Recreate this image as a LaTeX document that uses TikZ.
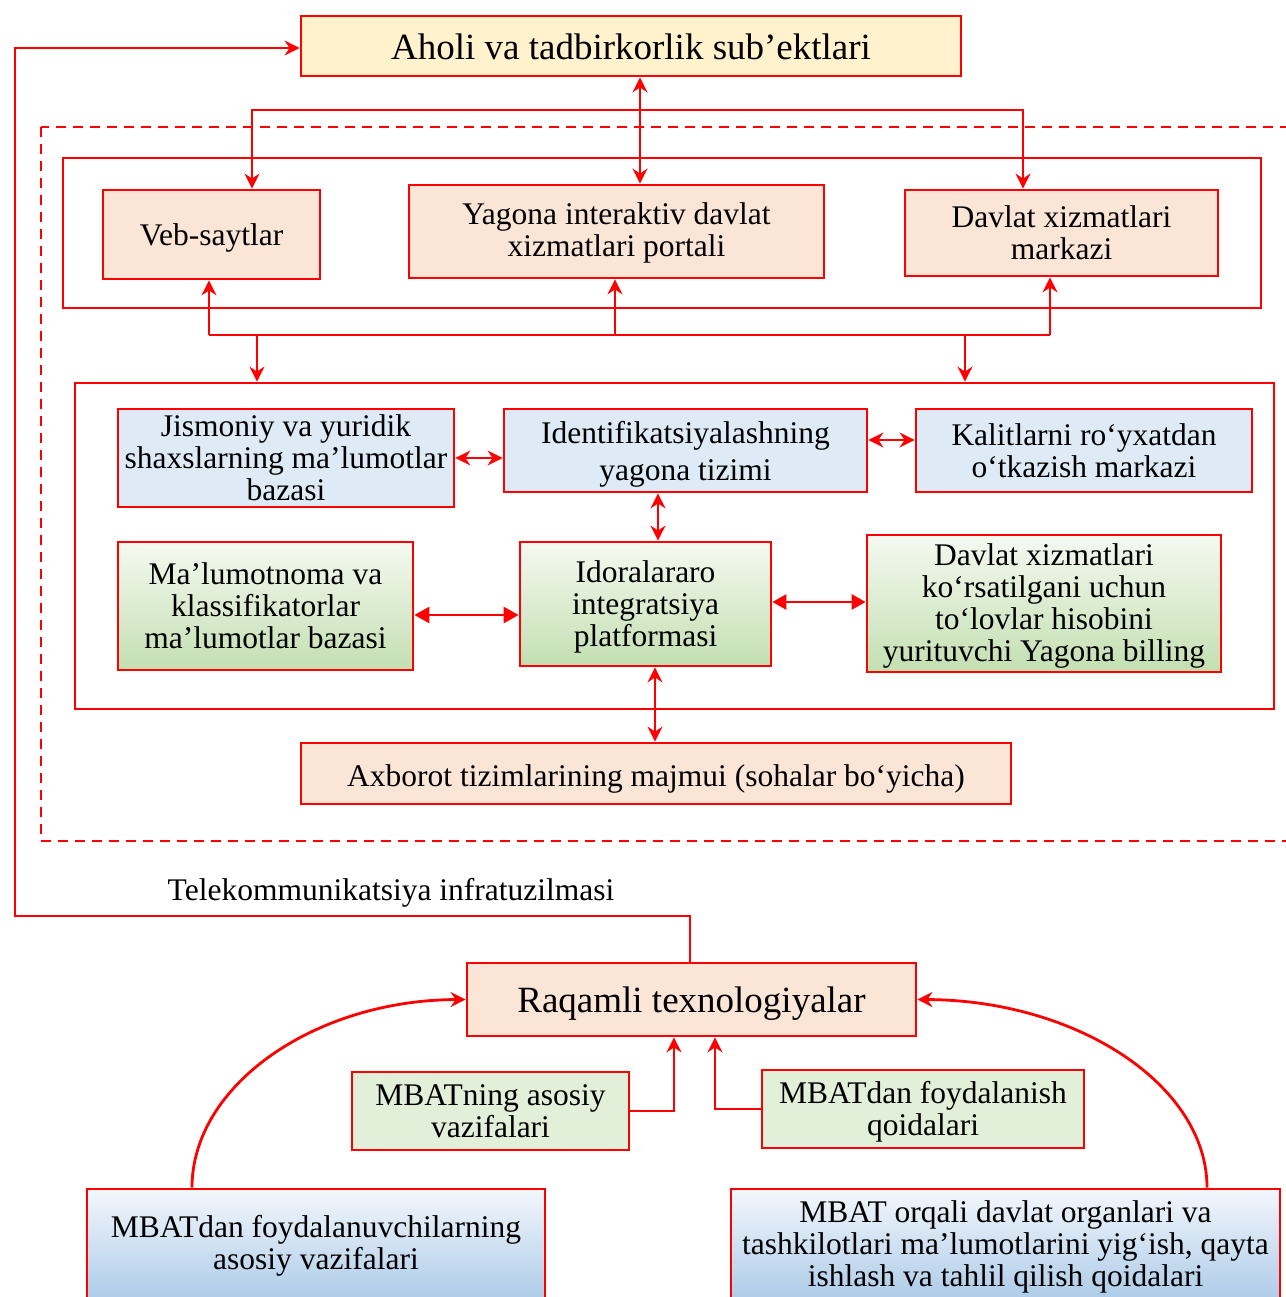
\documentclass[tikz,border=0pt]{standalone}
\usepackage{fontspec}
\setmainfont{Liberation Serif}
\usetikzlibrary{arrows.meta,calc}

\definecolor{linered}{HTML}{FF0000}
\definecolor{cream}{HTML}{FFF2CC}
\definecolor{peach}{HTML}{FBE5D6}
\definecolor{paleblue}{HTML}{DEEBF7}
\definecolor{palegreen}{HTML}{E2F0D9}
\definecolor{greentop}{HTML}{F5F9F1}
\definecolor{greenbot}{HTML}{C3DFB1}
\definecolor{bluetop}{HTML}{F3F7FC}
\definecolor{bluebot}{HTML}{ADCBE8}

\newcommand{\bodyfont}{\fontsize{31.5}{32}\selectfont}
\newcommand{\titlefont}{\fontsize{37}{40}\selectfont}
% strut that lowers the text block of a multi-line box
\newcommand{\topstrut}[1]{\rule{0pt}{#1pt}}

\tikzset{
  box/.style={draw=linered, line width=2.8pt, inner sep=0pt, align=center, font=\bodyfont},
  creambox/.style={box, fill=cream},
  peachbox/.style={box, fill=peach},
  bluebox/.style={box, fill=paleblue},
  greenflat/.style={box, fill=palegreen},
  greengrad/.style={box, top color=greentop, bottom color=greenbot},
  bluegrad/.style={box, top color=bluetop, bottom color=bluebot},
  frame/.style={draw=linered, line width=2.8pt, inner sep=0pt},
  link/.style={draw=linered, line width=2.8pt},
  tipsm/.tip={Stealth[length=15pt, width=15pt, inset=5pt]},
  tipbig/.tip={Stealth[length=15pt, width=16pt, inset=0pt]},
  tipmid/.tip={Stealth[length=14pt, width=15pt, inset=0pt]},
  one/.style={link, -tipsm},
  both/.style={link, tipsm-tipsm},
  bothbig/.style={link, tipbig-tipbig},
  bothmid/.style={link, tipmid-tipmid},
}

\begin{document}
\begin{tikzpicture}[x=1pt, y=-1pt]
\useasboundingbox (0,0) rectangle (1285,1297);

% outer dashed boundary of the state services block
\draw[linered, line width=2.8pt, dash pattern=on 10pt off 7pt] (41,127) rectangle (1320,841);

% frames
\node[frame, minimum width=1198pt, minimum height=150pt] (frameA) at (662,233) {};
\node[frame, minimum width=1199pt, minimum height=326pt] (frameB) at (674.5,546) {};

% boxes
\node[creambox, font=\titlefont, text height=28pt, text depth=0pt, minimum width=660pt, minimum height=60pt] (aholi) at (631,46) {Aholi va tadbirkorlik sub’ektlari};

\node[peachbox, text height=23pt, text depth=0pt, minimum width=217pt, minimum height=89pt] (veb) at (211.5,234.5) {Veb-saytlar};
\node[peachbox, minimum width=415pt, minimum height=93pt] (yagona) at (616.5,231.5) {\topstrut{25.5}Yagona interaktiv davlat\\xizmatlari portali};
\node[peachbox, minimum width=313pt, minimum height=86pt] (davlat) at (1061.5,233) {Davlat xizmatlari\\markazi};

\node[bluebox, minimum width=336pt, minimum height=98pt] (jism) at (286,458) {Jismoniy va yuridik\\shaxslarning ma’lumotlar\\bazasi};
\node[bluebox, minimum width=363pt, minimum height=83pt, font=\fontsize{31.5}{37}\selectfont] (ident) at (685.5,450.5) {\topstrut{29.5}Identifikatsiyalashning\\yagona tizimi};
\node[bluebox, minimum width=336pt, minimum height=83pt] (kalit) at (1084,450.5) {Kalitlarni ro‘yxatdan\\o‘tkazish markazi};

\node[greengrad, minimum width=295pt, minimum height=128pt] (malum) at (265.5,606) {Ma’lumotnoma va\\klassifikatorlar\\ma’lumotlar bazasi};
\node[greengrad, minimum width=251pt, minimum height=124pt] (idora) at (645.5,604) {\topstrut{27.5}Idoralararo\\integratsiya\\platformasi};
\node[greengrad, minimum width=354pt, minimum height=137pt] (bill) at (1044,603.5) {\topstrut{27}Davlat xizmatlari\\ko‘rsatilgani uchun\\to‘lovlar hisobini\\yurituvchi Yagona billing};

\node[peachbox, text height=26.5pt, text depth=0pt, minimum width=710pt, minimum height=61pt] (axb) at (656,773.5) {Axborot tizimlarining majmui (sohalar bo‘yicha)};

\node[font=\bodyfont, inner sep=0pt] (telekom) at (391,893) {Telekommunikatsiya infratuzilmasi};

\node[peachbox, font=\titlefont, text height=26pt, text depth=0pt, minimum width=449pt, minimum height=73pt] (raq) at (691.5,999.5) {Raqamli texnologiyalar};

\node[greenflat, minimum width=277pt, minimum height=78pt] (mb1) at (490.5,1111) {MBATning asosiy\\vazifalari};
\node[greenflat, minimum width=322pt, minimum height=78pt] (mb2) at (923,1109) {\topstrut{27}MBATdan foydalanish\\qoidalari};

\node[bluegrad, minimum width=458pt, minimum height=111pt] (foyd) at (316,1244.5) {\topstrut{25.5}MBATdan foydalanuvchilarning\\asosiy vazifalari};
\node[bluegrad, minimum width=549pt, minimum height=111pt] (orq) at (1005.5,1244.5) {\topstrut{27}MBAT orqali davlat organlari va\\tashkilotlari ma’lumotlarini yig‘ish, qayta\\ishlash va tahlil qilish qoidalari};

% guide columns and rows for the connectors
\coordinate (cA) at (640,0);
\coordinate (cV) at (252,0);
\coordinate (cD) at (1023,0);
\coordinate (yTop) at (0,110);
\coordinate (yBus) at (0,335);
\coordinate (u1) at (209,0);
\coordinate (u2) at (615,0);
\coordinate (u3) at (1050,0);
\coordinate (d1) at (257,0);
\coordinate (d2) at (965,0);
\coordinate (yK) at (0,440);
\coordinate (cI) at (658,0);
\coordinate (yM) at (0,615);
\coordinate (yB) at (0,602);
\coordinate (cX) at (655,0);
\coordinate (cT) at (690,0);
\coordinate (cL) at (15,0);
\coordinate (yT) at (0,916);
\coordinate (yAh) at (0,48);
\coordinate (c1) at (674,0);
\coordinate (c2) at (715,0);
\coordinate (cF) at (192,0);
\coordinate (cO) at (1207,0);

% citizens <-> portal, and branch to web sites and service centres
\draw[both] (aholi.south -| cA) -- (yagona.north -| cA);
\draw[both] (veb.north -| cV) -- (cV |- yTop) -- (cD |- yTop) -- (davlat.north -| cD);

% bus below the service channels
\draw[link] (u1 |- yBus) -- (u3 |- yBus);
\draw[one] (u1 |- yBus) -- (veb.south -| u1);
\draw[one] (u2 |- yBus) -- (yagona.south -| u2);
\draw[one] (u3 |- yBus) -- (davlat.south -| u3);
\draw[one] (d1 |- yBus) -- (frameB.north -| d1);
\draw[one] (d2 |- yBus) -- (frameB.north -| d2);

% core infrastructure links
\draw[both] (jism.east) -- (jism.east -| ident.west);
\draw[both] (ident.east |- yK) -- (kalit.west |- yK);
\draw[both] (ident.south -| cI) -- (idora.north -| cI);
\draw[bothbig] (malum.east |- yM) -- (idora.west |- yM);
\draw[bothmid] (idora.east |- yB) -- (bill.west |- yB);
\draw[both] (idora.south -| cX) -- (axb.north -| cX);

% telecommunication infrastructure loop
\draw[one] (raq.north -| cT) -- (cT |- yT) -- (cL |- yT) -- (cL |- yAh) -- (aholi.west |- yAh);

% inputs to digital technologies
\draw[one] (mb1.east) -- (c1 |- mb1.east) -- (raq.south -| c1);
\draw[one] (mb2.west) -- (c2 |- mb2.west) -- (raq.south -| c2);
\draw[one] (foyd.north -| cF) .. controls (192,1085) and (315,1000) .. (raq.west);
\draw[one] (orq.north -| cO) .. controls (1207,1085) and (1077,1000) .. (raq.east);
\end{tikzpicture}
\end{document}
